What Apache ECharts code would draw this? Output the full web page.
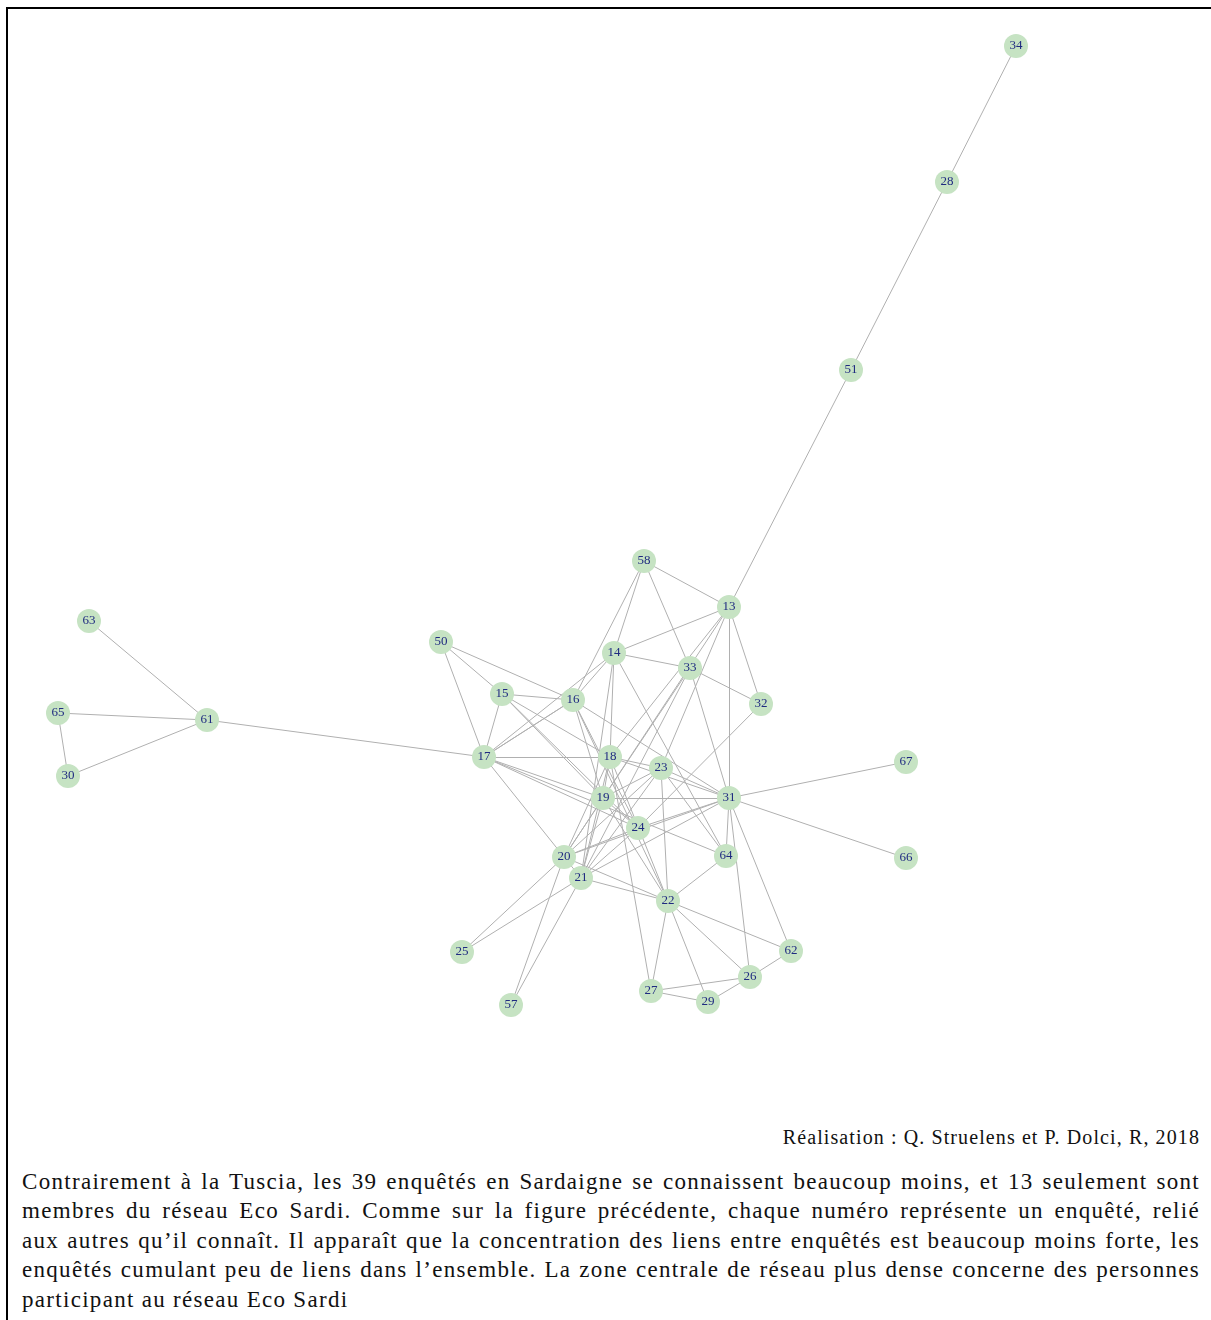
<!DOCTYPE html>
<html><head><meta charset="utf-8">
<script src="https://cdn.jsdelivr.net/npm/echarts@6/dist/echarts.min.js"></script>
<style>
html,body{margin:0;padding:0;background:#fff;width:1211px;height:1320px;overflow:hidden;}
#frame{position:absolute;left:6px;top:7px;width:1220px;height:1330px;border-left:2px solid #000;border-top:2px solid #000;}
#chart{position:absolute;left:0;top:0;width:1211px;height:1110px;}
#credit{position:absolute;right:11px;top:1126px;font-family:"Liberation Serif","DejaVu Serif",serif;font-size:20px;letter-spacing:1.1px;color:#111;white-space:nowrap;}
#caption{position:absolute;left:22px;top:1167px;width:1178px;font-family:"Liberation Serif","DejaVu Serif",serif;font-size:23px;letter-spacing:1.3px;line-height:29.4px;color:#111;}
#caption div{text-align:justify;text-align-last:justify;white-space:nowrap;}
#caption div.last{text-align-last:left;}
</style></head>
<body>
<div id="frame"></div>
<div id="chart"></div>
<div id="credit">Réalisation : Q. Struelens et P. Dolci, R, 2018</div>
<div id="caption">
<div>Contrairement à la Tuscia, les 39 enquêtés en Sardaigne se connaissent beaucoup moins, et 13 seulement sont</div>
<div>membres du réseau Eco Sardi. Comme sur la figure précédente, chaque numéro représente un enquêté, relié</div>
<div>aux autres qu’il connaît. Il apparaît que la concentration des liens entre enquêtés est beaucoup moins forte, les</div>
<div>enquêtés cumulant peu de liens dans l’ensemble. La zone centrale de réseau plus dense concerne des personnes</div>
<div class="last">participant au réseau Eco Sardi</div>
</div>
<script>
var nodeNames = ["34","28","51","58","13","63","50","14","33","15","16","32","65","61","17","18","67","23","30","19","31","24","20","66","64","21","22","62","25","26","27","29","57"];
var nodeX = [1016,947,851,644,729,89,441,614,690,502,573,761,58,207,484,610,906,661,68,603,729,638,564,906,726,581,668,791,462,750,651,708,511];
var nodeY = [46,182,370,561,607,621,642,653,668,694,700,704,713,720,757,757,762,768,776,798,798,828,857,858,856,878,901,951,952,977,991,1002,1005];

var edgeFrom = ["34","28","51","63","65","65","30","61","67","66","25","25","57","57","62","62","62","26","26","26","26","27","27","22","27","22","64",
"58","58","58","58","13","13","13","13","13","13","33","33","33","33","33",
"14","14","14","14","16","16","16","16","16","16","16","15","15","15","15","15",
"17","17","17","17","17","17","17",
"18","18","18","18","18","18",
"19","19","19","19","19","19",
"23","23","23","23","23",
"24","24","24","24","24",
"31","31","20","20","21"];
var edgeTo = ["28","51","13","61","61","30","61","17","31","31","20","21","20","21","22","26","31","29","27","22","31","29","22","29","18","64","31",
"13","14","33","16","14","32","31","18","23","20","14","32","31","19","21",
"18","64","21","17","50","15","17","14","31","19","22","50","17","19","18","24",
"50","18","19","64","20","16","24",
"23","31","20","21","22","19",
"23","24","20","21","22","31",
"31","22","20","21","64",
"31","20","21","32","16",
"20","21","21","22","22"];

var nodes = nodeNames.map(function(n,i){return {name:n,value:[nodeX[i],nodeY[i]]};});
var links = edgeFrom.map(function(s,i){return {source:s,target:edgeTo[i]};});

var chart = echarts.init(document.getElementById('chart'),null,{renderer:'canvas'});
chart.setOption({
  animation:false,
  backgroundColor:'transparent',
  grid:{left:0,top:0,right:0,bottom:0},
  xAxis:{type:'value',min:0,max:1211,show:false},
  yAxis:{type:'value',min:0,max:1110,inverse:true,show:false},
  series:[{
    type:'graph',
    coordinateSystem:'cartesian2d',
    layout:'none',
    symbol:'circle',
    symbolSize:24,
    data:nodes,
    links:links,
    itemStyle:{color:'#c6e3c3',borderWidth:0},
    lineStyle:{color:'#b0b0b0',width:1,opacity:1,curveness:0},
    label:{show:true,position:'inside',color:'#1f2a80',fontFamily:'Liberation Serif, DejaVu Serif, serif',fontSize:13,formatter:'{b}'},
    emphasis:{disabled:true}
  }]
});
</script>
</body></html>
